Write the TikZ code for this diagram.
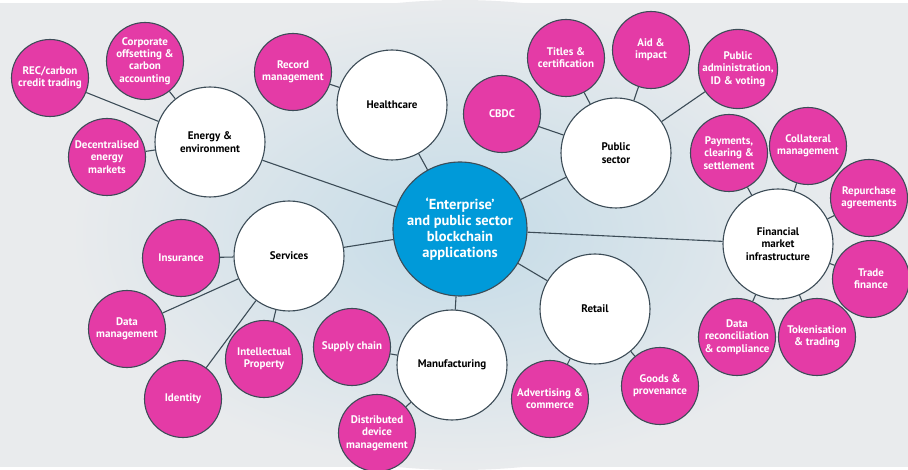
\documentclass[tikz,border=0pt]{standalone}
\usepackage{fontspec}
\setmainfont{PT Sans}
\definecolor{bubblepink}{HTML}{E43BA6}
\definecolor{hubblue}{HTML}{009AD9}
\definecolor{linkgrey}{HTML}{3C4C57}
\definecolor{paper}{HTML}{E9EBED}
\definecolor{glow}{HTML}{C4DBE7}
\tikzset{
  hub/.style={circle, draw=linkgrey, line width=1.1pt, fill=hubblue, text=white, minimum size=134pt, inner sep=0pt, align=center, font=\bfseries\fontsize{14.5}{16}\selectfont},
  sector/.style={circle, draw=linkgrey, line width=1.1pt, fill=white, text=black, minimum size=110pt, inner sep=0pt, align=center, font=\bfseries\fontsize{11}{12.5}\selectfont},
  usecase/.style={circle, draw=linkgrey, line width=1.1pt, fill=bubblepink, text=white, minimum size=77pt, inner sep=0pt, align=center, font=\bfseries\fontsize{11}{12.3}\selectfont},
  link/.style={draw=linkgrey, line width=1.1pt}
}
\begin{document}
\begin{tikzpicture}[x=1pt, y=-1pt]
			\fill[paper] (0,0) rectangle (908,464);
			\shade[inner color=glow, outer color=paper] (460,232) ellipse (390 and 235);
			\useasboundingbox (0,0) rectangle (908,464);
			\node[hub] (hub) at (460,226) {‘Enterprise’\\and public sector\\blockchain\\applications};
			\node[sector] (energy) at (210,139) {Energy \&\\environment};
			\node[sector] (health) at (392,102) {Healthcare};
			\node[sector] (public) at (616,150) {Public\\sector};
			\node[sector] (fmi) at (778,241) {Financial\\market\\infrastructure};
			\node[sector] (retail) at (595,306) {Retail};
			\node[sector] (manuf) at (452,362) {Manufacturing};
			\node[sector] (services) at (289,253) {Services};
			\node[usecase] (rec) at (50,75) {REC/carbon\\credit trading};
			\node[usecase] (offset) at (145,58) {Corporate\\offsetting \&\\carbon\\accounting};
			\node[usecase] (decent) at (107,154) {Decentralised\\energy\\markets};
			\node[usecase] (record) at (293,69) {Record\\management};
			\node[usecase] (cbdc) at (502,111) {CBDC};
			\node[usecase] (titles) at (566,55) {Titles \&\\certification};
			\node[usecase] (aid) at (651,47) {Aid \&\\impact};
			\node[usecase] (admin) at (738,66) {Public\\administration,\\ID \& voting};
			\node[usecase] (payments) at (729,150) {Payments,\\clearing \&\\settlement};
			\node[usecase] (collateral) at (808,143) {Collateral\\management};
			\node[usecase] (repo) at (869,195) {Repurchase\\agreements};
			\node[usecase] (trade) at (871,276) {Trade\\finance};
			\node[usecase] (token) at (817,334) {Tokenisation\\\& trading};
			\node[usecase] (recon) at (737,334) {Data\\reconciliation\\\& compliance};
			\node[usecase] (goods) at (660,383) {Goods \&\\provenance};
			\node[usecase] (advert) at (550,396) {Advertising \&\\commerce};
			\node[usecase] (supply) at (352,344) {Supply chain};
			\node[usecase] (device) at (377,430) {Distributed\\device\\management};
			\node[usecase] (insurance) at (181,255) {Insurance};
			\node[usecase] (datamgmt) at (127,326) {Data\\management};
			\node[usecase] (identity) at (183,396) {Identity};
			\node[usecase] (ip) at (264,356) {Intellectual\\Property};
			\foreach \a/\b in {hub/energy, hub/health, hub/public, hub/fmi, hub/retail, hub/manuf, hub/services,
				energy/rec, energy/offset, energy/decent, health/record,
				public/cbdc, public/titles, public/aid, public/admin,
				fmi/payments, fmi/collateral, fmi/repo, fmi/trade, fmi/token, fmi/recon,
				retail/goods, retail/advert, manuf/supply, manuf/device,
				services/insurance, services/datamgmt, services/identity, services/ip}
				\draw[link] (\a) -- (\b);
		\end{tikzpicture}
\end{document}
